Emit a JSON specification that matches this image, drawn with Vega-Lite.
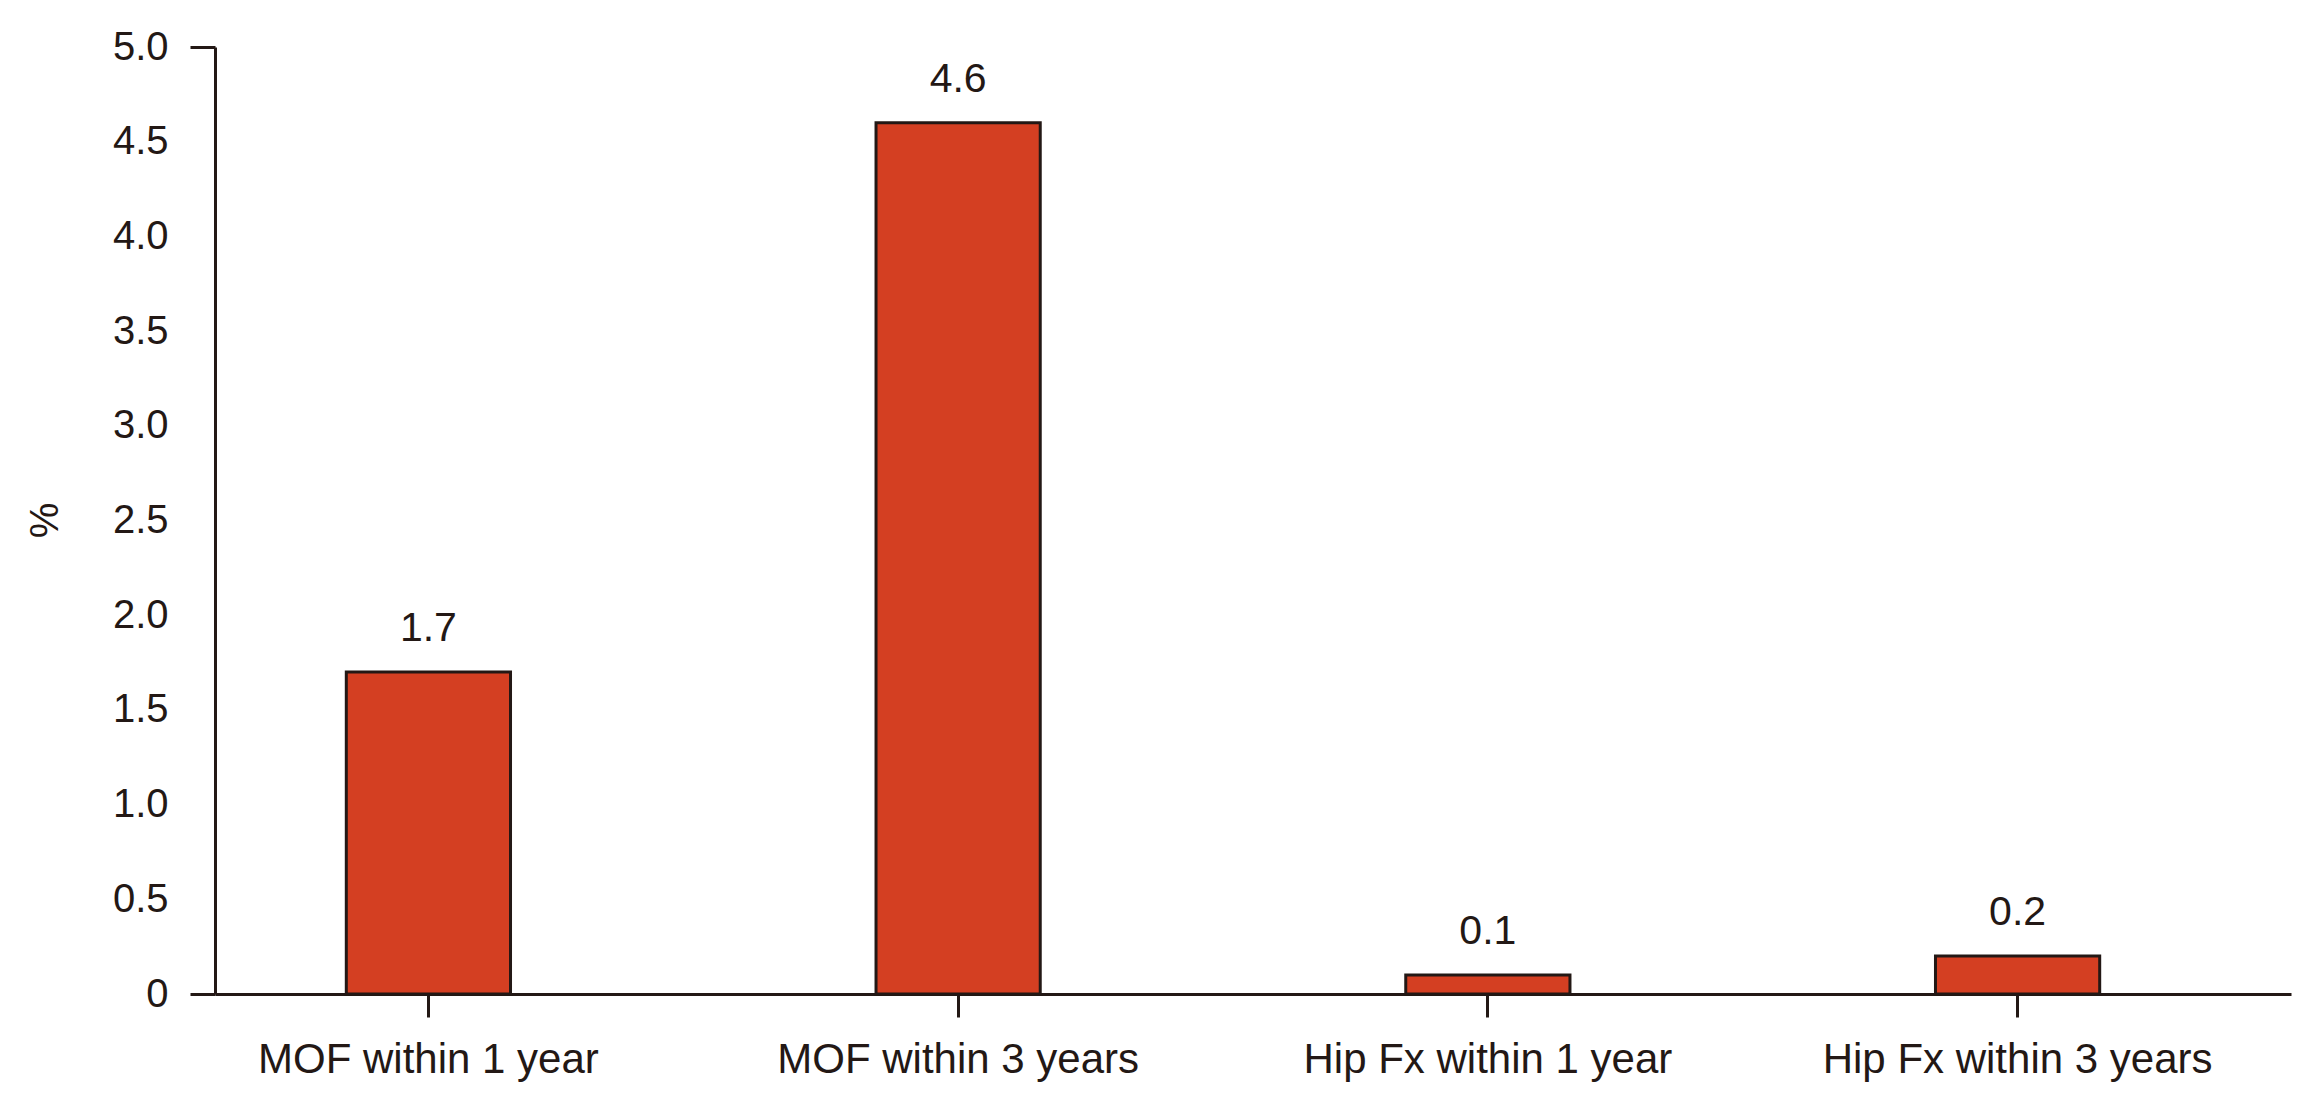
{
  "$schema": "https://vega.github.io/schema/vega-lite/v6.json",
  "width": 2076,
  "height": 947,
  "autosize": "none",
  "padding": {"left": 215, "top": 47, "right": 30, "bottom": 121},
  "background": "white",
  "config": {
    "view": {"stroke": null},
    "font": "Liberation Sans"
  },
  "data": {
    "values": [
      {"group": "MOF within 1 year", "pct": 1.7},
      {"group": "MOF within 3 years", "pct": 4.6},
      {"group": "Hip Fx within 1 year", "pct": 0.1},
      {"group": "Hip Fx within 3 years", "pct": 0.2}
    ]
  },
  "encoding": {
    "x": {
      "field": "group",
      "type": "nominal",
      "sort": null,
      "scale": {"paddingInner": 0.69, "paddingOuter": 0.3045, "align": 0.407},
      "axis": {
        "title": null,
        "labelAngle": 0,
        "labelLimit": 0,
        "labelFont": "Liberation Sans",
        "labelFontSize": 42,
        "labelColor": "#231815",
        "labelPadding": 22,
        "tickSize": 23,
        "tickWidth": 3,
        "tickColor": "#231815",
        "domainColor": "#231815",
        "domainWidth": 3,
        "grid": false
      }
    },
    "y": {
      "field": "pct",
      "type": "quantitative",
      "scale": {"domain": [0, 5], "nice": false},
      "axis": {
        "title": "%",
        "titleFont": "Liberation Sans",
        "titleFontSize": 40,
        "titleFontWeight": "normal",
        "titleColor": "#231815",
        "titleAngle": 270,
        "titleX": -170,
        "titleY": 473,
        "titleAlign": "center",
        "titleBaseline": "middle",
        "values": [0, 0.5, 1, 1.5, 2, 2.5, 3, 3.5, 4, 4.5, 5],
        "labelExpr": "datum.value == 0 ? '0' : format(datum.value, '.1f')",
        "labelFont": "Liberation Sans",
        "labelFontSize": 40,
        "labelColor": "#231815",
        "labelPadding": 22,
        "tickSize": 25,
        "tickWidth": 3,
        "tickColor": {
          "condition": {"test": "datum.value == 5 || datum.value == 0", "value": "#231815"},
          "value": "transparent"
        },
        "domainColor": "#231815",
        "domainWidth": 3,
        "grid": false
      }
    }
  },
  "layer": [
    {
      "mark": {
        "type": "bar",
        "fill": "#D43F22",
        "stroke": "#231815",
        "strokeWidth": 3
      }
    },
    {
      "mark": {
        "type": "text",
        "baseline": "alphabetic",
        "dy": -31,
        "fontSize": 41,
        "color": "#231815"
      },
      "encoding": {
        "text": {"field": "pct", "type": "quantitative", "format": ".1f"}
      }
    }
  ]
}
